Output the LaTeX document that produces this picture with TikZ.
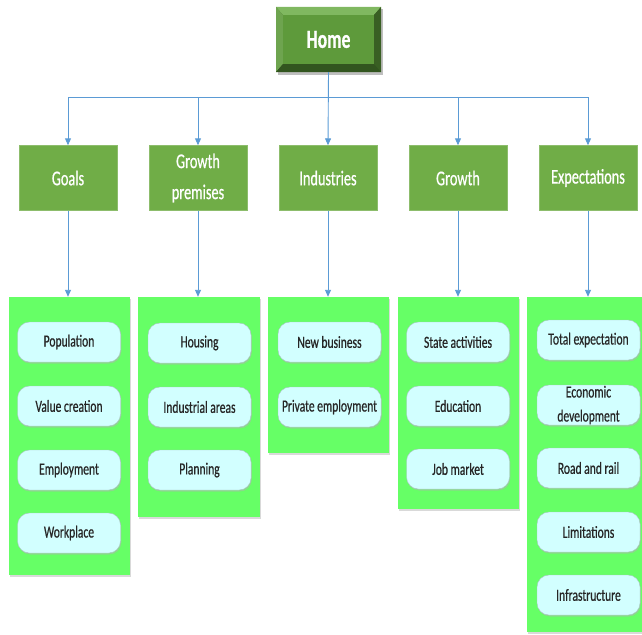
\documentclass[tikz,border=0pt]{standalone}
\usepackage{fontspec}
\usetikzlibrary{shadows,arrows.meta}
\newfontfamily\cfont[FakeStretch=0.68,FakeBold=0.6]{Carlito}
\definecolor{homeface}{HTML}{5E9A3B}
\definecolor{homedark}{HTML}{3F6A27}
\definecolor{homelight}{HTML}{80B860}
\definecolor{hdrgreen}{HTML}{70AD47}
\definecolor{panelgreen}{HTML}{66FF66}
\definecolor{pillfill}{HTML}{D2FFFF}
\definecolor{pillline}{HTML}{A9C4C4}
\definecolor{linkblue}{HTML}{5B9BD5}
\begin{document}
\begin{tikzpicture}[x=1pt,y=-1pt,
  hdr/.style={draw=hdrgreen!80!white, fill=hdrgreen, minimum width=98pt, minimum height=65pt,
    text=white, align=center, font=\cfont\fontsize{21}{31}\selectfont, inner sep=0pt},
  panel/.style={fill=panelgreen, draw=none, inner sep=0pt,
    drop shadow={shadow xshift=1.2pt, shadow yshift=-1.5pt, fill=black!25, opacity=0.6}},
  pill/.style={draw=pillline, fill=pillfill, rounded corners=12pt, minimum width=103pt, minimum height=40pt,
    inner sep=0pt, align=center, text=black!85, font=\cfont\fontsize{17}{25}\selectfont,
    drop shadow={shadow xshift=0.8pt, shadow yshift=-1.5pt, fill=black!30, opacity=0.5}},
  link/.style={draw=linkblue, line width=0.9pt, -{Triangle[length=7pt,width=6pt]}},
]
\useasboundingbox (0,0) rectangle (642,634);

% Home bevel box
\fill[black!25] (278,9) rectangle (383,75);
\fill[homedark] (276,7) rectangle (381,72);
\fill[homelight] (276,7) -- (381,7) -- (374,15) -- (283,15) -- cycle;
\fill[homeface!90!white] (276,7) -- (283,15) -- (283,64) -- (276,72) -- cycle;
\fill[homedark!90!black] (381,7) -- (374,15) -- (374,64) -- (381,72) -- cycle;
\fill[homedark!80!black] (276,72) -- (283,64) -- (374,64) -- (381,72) -- cycle;
\fill[homeface] (283,15) rectangle (374,64);
\node[minimum width=105pt, minimum height=65pt, inner sep=0pt,
  text=white, font=\cfont\fontsize{26}{28}\bfseries\selectfont] (home) at (328.5,39.5) {Home};

% headers
\node[hdr] (goals) at (68,178) {Goals};
\node[hdr] (premises) at (198,178) {Growth\\premises};
\node[hdr] (industries) at (328,178) {Industries};
\node[hdr] (growth) at (458,178) {Growth};
\node[hdr] (expect) at (588,178) {Expectations};

% panels
\node[panel, minimum width=121pt, minimum height=278pt] (p1) at (69.5,436) {};
\node[panel, minimum width=122pt, minimum height=220pt] (p2) at (199,407) {};
\node[panel, minimum width=121pt, minimum height=156pt] (p3) at (328.5,375) {};
\node[panel, minimum width=121pt, minimum height=212pt] (p4) at (458.5,403) {};
\node[panel, minimum width=115pt, minimum height=335pt] (p5) at (584.5,464.5) {};

% connectors
\draw[link] (home.south) -- ++(0,25) -| (goals.north);
\draw[link] (home.south) -- ++(0,25) -| (premises.north);
\draw[link] (home.south) -- (industries.north);
\draw[link] (home.south) -- ++(0,25) -| (growth.north);
\draw[link] (home.south) -- ++(0,25) -| (expect.north);
\draw[link] (goals.south) -- (goals.south |- p1.north);
\draw[link] (premises.south) -- (premises.south |- p2.north);
\draw[link] (industries.south) -- (industries.south |- p3.north);
\draw[link] (growth.south) -- (growth.south |- p4.north);
\draw[link] (expect.south) -- (expect.south |- p5.north);

% pills: Goals
\node[pill] (g1) at (69,342) {Population};
\node[pill] (g2) at (69,406) {Value creation};
\node[pill] (g3) at (69,470) {Employment};
\node[pill] (g4) at (69,533) {Workplace};
% Growth premises
\node[pill] (h1) at (199.5,343) {Housing};
\node[pill] (h2) at (199.5,407) {Industrial areas};
\node[pill] (h3) at (199.5,470) {Planning};
% Industries
\node[pill] (i1) at (329.5,342) {New business};
\node[pill] (i2) at (329.5,407) {Private employment};
% Growth
\node[pill] (r1) at (458,342) {State activities};
\node[pill] (r2) at (458,406) {Education};
\node[pill] (r3) at (458,469) {Job market};
% Expectations
\node[pill] (e1) at (588.5,340) {Total expectation};
\node[pill] (e2) at (588.5,405) {Economic\\[-1pt]development};
\node[pill] (e3) at (588.5,468) {Road and rail};
\node[pill] (e4) at (588.5,532) {Limitations};
\node[pill] (e5) at (588.5,595) {Infrastructure};
\end{tikzpicture}
\end{document}
